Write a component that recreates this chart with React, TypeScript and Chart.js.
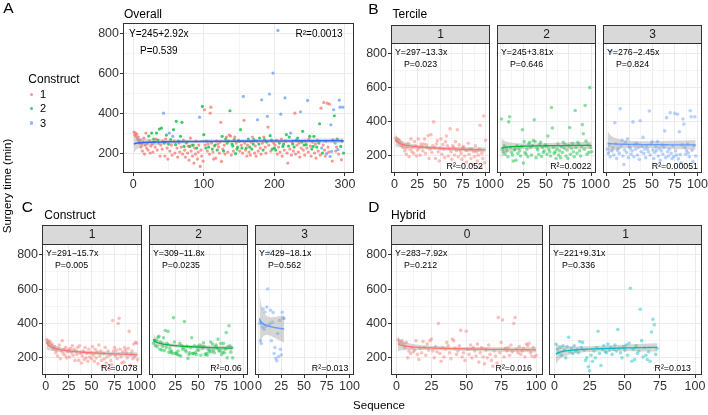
import React, { useEffect, useRef } from 'react';
import { Chart, registerables } from 'chart.js';

Chart.register(...registerables);

const FONT = '"Liberation Sans", Arimo, Arial, Helvetica, sans-serif';

// ---------------- data ----------------
// surgery time (min) by overall sequence number 1..298
const surgeryTime: number[] = [
  305, 290, 300, 285, 295, 270, 280, 260, 250, 265,
  230, 245, 210, 255, 275, 195, 240, 300, 225, 250,
  215, 285, 260, 200, 235, 300, 245, 205, 270, 255,
  230, 270, 300, 215, 265, 250, 320, 185, 240, 325,
  220, 260, 400, 250, 185, 270, 290, 225, 170, 245,
  300, 210, 267, 240, 190, 284, 317, 260, 200, 242,
  359, 225, 180, 260, 250, 205, 284, 230, 354, 195,
  265, 233, 215, 180, 250, 255, 200, 235, 165, 233,
  275, 210, 240, 185, 240, 150, 225, 195, 260, 225,
  170, 205, 240, 380, 133, 215, 185, 434, 160, 292,
  417, 240, 225, 260, 210, 245, 230, 195, 400, 430,
  250, 220, 205, 170, 235, 240, 175, 260, 215, 245,
  230, 200, 255, 354, 158, 284, 220, 210, 240, 195,
  270, 280, 250, 205, 260, 290, 412, 285, 190, 245,
  235, 210, 267, 280, 197, 250, 220, 230, 265, 259,
  210, 317, 240, 225, 200, 484, 364, 250, 215, 225,
  185, 240, 270, 205, 230, 190, 255, 220, 280, 245,
  267, 200, 235, 185, 260, 367, 210, 245, 275, 225,
  195, 467, 250, 215, 280, 267, 230, 200, 255, 384,
  330, 240, 496, 287, 210, 265, 220, 601, 250, 225,
  240, 215, 265, 195, 815, 230, 250, 205, 395, 270,
  185, 233, 245, 215, 477, 260, 292, 200, 150, 235,
  280, 220, 300, 190, 255, 245, 210, 230, 400, 195,
  265, 240, 275, 205, 250, 180, 407, 225, 255, 309,
  215, 240, 190, 260, 242, 225, 464, 205, 270, 284,
  235, 185, 220, 255, 233, 284, 200, 245, 175, 230,
  265, 210, 250, 347, 190, 425, 225, 200, 240, 454,
  215, 185, 260, 197, 450, 230, 205, 445, 183, 342,
  208, 160, 265, 417, 387, 250, 210, 230, 270, 217,
  195, 465, 430, 233, 167, 260, 430, 200,
];

// construct of each case (same order)
const construct: number[] = [
  1, 1, 1, 1, 1, 1, 1, 1, 1, 1,
  1, 1, 1, 1, 1, 1, 1, 1, 1, 1,
  1, 2, 1, 1, 1, 2, 1, 1, 2, 1,
  1, 1, 2, 1, 2, 1, 2, 1, 1, 2,
  1, 1, 3, 2, 1, 1, 2, 1, 1, 2,
  3, 1, 2, 1, 1, 3, 2, 1, 1, 2,
  2, 1, 1, 2, 1, 1, 2, 1, 2, 1,
  1, 2, 1, 1, 1, 2, 1, 1, 1, 2,
  1, 1, 1, 1, 2, 1, 1, 1, 1, 2,
  1, 1, 1, 3, 1, 1, 1, 2, 1, 2,
  1, 1, 2, 1, 1, 1, 2, 1, 1, 1,
  1, 2, 1, 1, 1, 2, 1, 1, 2, 1,
  1, 1, 1, 1, 1, 2, 1, 2, 1, 1,
  2, 1, 2, 1, 2, 1, 2, 1, 1, 2,
  2, 1, 2, 1, 2, 1, 2, 2, 1, 2,
  1, 2, 1, 2, 1, 3, 1, 1, 1, 2,
  1, 1, 2, 1, 2, 1, 1, 2, 1, 2,
  2, 1, 1, 1, 1, 3, 1, 2, 2, 1,
  1, 3, 1, 2, 1, 2, 1, 1, 2, 3,
  1, 1, 3, 2, 1, 2, 2, 3, 1, 2,
  1, 2, 1, 1, 3, 1, 2, 1, 3, 1,
  1, 2, 2, 1, 3, 1, 2, 1, 1, 2,
  2, 1, 3, 1, 1, 2, 1, 2, 1, 1,
  2, 1, 2, 1, 1, 1, 3, 1, 2, 2,
  1, 2, 1, 1, 2, 1, 3, 1, 1, 2,
  1, 1, 2, 1, 2, 2, 1, 1, 1, 2,
  1, 1, 2, 2, 1, 1, 3, 2, 1, 1,
  1, 1, 3, 3, 1, 1, 1, 1, 3, 3,
  3, 1, 2, 3, 2, 3, 1, 1, 2, 3,
  1, 3, 3, 2, 1, 2, 3, 2,
];

// surgery time by sequence within hybrid group
const hybrid0Time: number[] = [
  305, 295, 285, 300, 280, 260, 290, 200, 240, 225,
  260, 235, 245, 300, 220, 190, 255, 230, 295, 260,
  215, 280, 245, 300, 310, 240, 200, 265, 235, 400,
  225, 180, 260, 205, 250, 290, 270, 230, 195, 310,
  300, 255, 220, 240, 270, 360, 205, 230, 185, 355,
  250, 220, 275, 200, 260, 240, 210, 280, 175, 230,
  260, 205, 165, 245, 200, 275, 220, 185, 150, 240,
  210, 170, 435, 230, 290, 420, 205, 255, 240, 260,
  215, 275, 235, 400, 435, 250, 230, 265, 220, 240,
  255, 205, 280, 270, 285, 230, 210, 260, 205, 215,
];
const hybrid1Time: number[] = [
  280, 250, 230, 260, 215, 270, 245, 200, 265, 320,
  235, 255, 225, 270, 240, 250, 230, 295, 260, 290,
  245, 185, 200, 148, 125, 215, 180, 240, 200, 260,
  355, 225, 155, 250, 270, 235, 230, 280, 245, 260,
  220, 250, 275, 240, 365, 255, 230, 200, 265, 245,
  275, 215, 285, 605, 180, 250, 190, 270, 225, 240,
  483, 300, 205, 260, 215, 190, 235, 180, 350, 425,
  392, 220, 255,
];

// regression Y = a + b*ln(x)
const overallFit = [245, 2.92];
const tercileFits = [[297, -13.3], [245, 3.81], [276, -2.45]];
const constructFits = [[291, -15.7], [309, -11.8], [429, -18.1]];
const hybridFits = [[283, -7.92], [221, 9.31]];

const overallLabels = ['Y=245+2.92x', 'P=0.539', 'R\u00b2=0.0013'];
const tercileLabels = [
  ['Y=297\u221213.3x', 'P=0.023', 'R\u00b2=0.052'],
  ['Y=245+3.81x', 'P=0.646', 'R\u00b2=0.0022'],
  ['Y=276\u22122.45x', 'P=0.824', 'R\u00b2=0.00051'],
];
const constructLabels = [
  ['Y=291\u221215.7x', 'P=0.005', 'R\u00b2=0.078'],
  ['Y=309\u221211.8x', 'P=0.0235', 'R\u00b2=0.06'],
  ['Y=429\u221218.1x', 'P=0.562', 'R\u00b2=0.013'],
];
const hybridLabels = [
  ['Y=283\u22127.92x', 'P=0.212', 'R\u00b2=0.016'],
  ['Y=221+9.31x', 'P=0.336', 'R\u00b2=0.013'],
];

const tercileNames = ['1', '2', '3'];
const constructNames = ['1', '2', '3'];
const hybridNames = ['0', '1'];

const yMajor = [200, 400, 600, 800];
const yMinor = [300, 500, 700];
const xMajorOverall = [0, 100, 200, 300];
const xMinorOverall = [50, 150, 250];
const xMajorFacet = [0, 25, 50, 75, 100];
const xMinorFacet = [12.5, 37.5, 62.5, 87.5];

const RED = '#F8766D';
const GREEN = '#00BA38';
const BLUE = '#619CFF';
const CYAN = '#00BFC4';
const groupColors = [RED, GREEN, BLUE];
const hybridColors = [RED, CYAN];

// ---------------- helpers ----------------
type Pt = { x: number; y: number };
type TextSpec = { text: string; left?: number; right?: number; top?: number; bottom?: number; size: number };
type PanelSpec = {
  id: string;
  rect: [number, number, number, number];
  stripTop?: number;
  stripLabel?: string;
  xRange: [number, number];
  yRange: [number, number];
  xMajor: number[];
  xMinor: number[];
  showY: boolean;
  points: Pt[];
  pointColors: string[];
  pointRadius: number;
  fit: number[];
  lineColor: string;
  lineWidth: number;
  texts: TextSpec[];
};

function rgba(hex: string, a: number) {
  const n = parseInt(hex.slice(1), 16);
  return `rgba(${(n >> 16) & 255},${(n >> 8) & 255},${n & 255},${a})`;
}

function toPoints(ys: number[]): Pt[] {
  return ys.map((y, i) => ({ x: i + 1, y }));
}

function smooth(points: Pt[], fit: number[]) {
  const [a, b] = fit;
  const n = points.length;
  const lx = points.map((p) => Math.log(p.x));
  const mean = lx.reduce((s, v) => s + v, 0) / n;
  const sxx = lx.reduce((s, v) => s + (v - mean) ** 2, 0);
  const rss = points.reduce((s, p, i) => s + (p.y - a - b * lx[i]) ** 2, 0);
  const sigma = Math.sqrt(rss / (n - 2));
  const t = n > 60 ? 1.98 : 2.05;
  const xs = points.map((p) => p.x);
  const xmin = Math.min(...xs);
  const xmax = Math.max(...xs);
  const N = 160;
  const line: Pt[] = [];
  const upper: Pt[] = [];
  const lower: Pt[] = [];
  for (let k = 0; k <= N; k++) {
    const x = xmin + ((xmax - xmin) * k) / N;
    const l = Math.log(x);
    const yh = a + b * l;
    const se = sigma * Math.sqrt(1 / n + (l - mean) ** 2 / sxx);
    line.push({ x, y: yh });
    upper.push({ x, y: yh + t * se });
    lower.push({ x, y: yh - t * se });
  }
  return { line, upper, lower };
}

// ---------------- panel specs ----------------
const overallPoints = toPoints(surgeryTime);
const tercileSeries = [0, 1, 2].map((k) => surgeryTime.slice(k * 100, k * 100 + 100));
const constructSeries = [1, 2, 3].map((c) => surgeryTime.filter((_, i) => construct[i] === c).slice(0, 100));
const hybridSeries = [hybrid0Time, hybrid1Time];

const FACET_Y: [number, number] = [100, 863];
const FACET_X: [number, number] = [-3.95, 104.95];

const facetTexts = (labels: string[], r2Right: number): TextSpec[] => [
  { text: labels[0], left: 4, top: 9.5, size: 8.8 },
  { text: labels[1], left: 13, top: 21.5, size: 8.8 },
  { text: labels[2], right: r2Right, bottom: 6.5, size: 8.8 },
];

const panels: PanelSpec[] = [];

panels.push({
  id: 'A',
  rect: [123, 23, 354, 173],
  xRange: [-14.5, 312.8],
  yRange: [100, 852],
  xMajor: xMajorOverall,
  xMinor: xMinorOverall,
  showY: true,
  points: overallPoints,
  pointColors: construct.map((c) => rgba(groupColors[c - 1], 0.75)),
  pointRadius: 1.6,
  fit: overallFit,
  lineColor: '#3366FF',
  lineWidth: 1.6,
  texts: [
    { text: overallLabels[0], left: 6, top: 11, size: 10 },
    { text: overallLabels[1], left: 17, top: 28.5, size: 10 },
    { text: overallLabels[2], right: 11.5, top: 11, size: 10 },
  ],
});

const bRects: [number, number, number, number][] = [
  [391, 43, 490, 173],
  [497, 43, 596, 173],
  [603, 43, 702, 173],
];
const bR2 = [7, 4.5, 4];
tercileSeries.forEach((ys, k) => {
  panels.push({
    id: 'B' + k,
    rect: bRects[k],
    stripTop: 25,
    stripLabel: tercileNames[k],
    xRange: FACET_X,
    yRange: FACET_Y,
    xMajor: xMajorFacet,
    xMinor: xMinorFacet,
    showY: k === 0,
    points: toPoints(ys),
    pointColors: ys.map(() => rgba(groupColors[k], 0.45)),
    pointRadius: 1.8,
    fit: tercileFits[k],
    lineColor: groupColors[k],
    lineWidth: 1.3,
    texts: facetTexts(tercileLabels[k], bR2[k]),
  });
});

const cRects: [number, number, number, number][] = [
  [42, 244, 142, 375],
  [149, 244, 248, 375],
  [255, 244, 354, 375],
];
const cR2 = [4.5, 6.3, 5.7];
constructSeries.forEach((ys, k) => {
  panels.push({
    id: 'C' + k,
    rect: cRects[k],
    stripTop: 225,
    stripLabel: constructNames[k],
    xRange: FACET_X,
    yRange: FACET_Y,
    xMajor: xMajorFacet,
    xMinor: xMinorFacet,
    showY: k === 0,
    points: toPoints(ys),
    pointColors: ys.map(() => rgba(groupColors[k], 0.45)),
    pointRadius: 1.8,
    fit: constructFits[k],
    lineColor: groupColors[k],
    lineWidth: 1.3,
    texts: facetTexts(constructLabels[k], cR2[k]),
  });
});

const dRects: [number, number, number, number][] = [
  [391, 244, 543, 375],
  [549, 244, 702, 375],
];
hybridSeries.forEach((ys, k) => {
  panels.push({
    id: 'D' + k,
    rect: dRects[k],
    stripTop: 225,
    stripLabel: hybridNames[k],
    xRange: FACET_X,
    yRange: FACET_Y,
    xMajor: xMajorFacet,
    xMinor: xMinorFacet,
    showY: k === 0,
    points: toPoints(ys),
    pointColors: ys.map(() => rgba(hybridColors[k], 0.45)),
    pointRadius: 1.8,
    fit: hybridFits[k],
    lineColor: hybridColors[k],
    lineWidth: 1.3,
    texts: facetTexts(hybridLabels[k], 11),
  });
});

// ---------------- chart panel ----------------
function decorPlugin(spec: PanelSpec) {
  return {
    id: 'decor' + spec.id,
    afterDraw(chart: any) {
      const { ctx, chartArea: ca } = chart;
      ctx.save();
      if (spec.stripTop !== undefined) {
        const h = ca.top - spec.stripTop;
        ctx.fillStyle = '#D9D9D9';
        ctx.fillRect(ca.left, spec.stripTop, ca.right - ca.left, h);
        ctx.strokeStyle = '#333333';
        ctx.lineWidth = 1;
        ctx.strokeRect(ca.left + 0.5, spec.stripTop + 0.5, ca.right - ca.left - 1, h);
        ctx.fillStyle = '#1A1A1A';
        ctx.font = `12px ${FONT}`;
        ctx.textAlign = 'center';
        ctx.textBaseline = 'middle';
        ctx.fillText(spec.stripLabel, (ca.left + ca.right) / 2, spec.stripTop + h / 2 + 0.5);
      }
      ctx.fillStyle = '#000000';
      ctx.textBaseline = 'middle';
      for (const t of spec.texts) {
        ctx.font = `${t.size}px ${FONT}`;
        let x: number;
        if (t.left !== undefined) {
          ctx.textAlign = 'left';
          x = ca.left + t.left;
        } else {
          ctx.textAlign = 'right';
          x = ca.right - (t.right || 0);
        }
        const y = t.top !== undefined ? ca.top + t.top : ca.bottom - (t.bottom || 0);
        ctx.fillText(t.text, x, y);
      }
      ctx.strokeStyle = '#333333';
      ctx.lineWidth = 1;
      ctx.strokeRect(ca.left + 0.5, ca.top + 0.5, ca.right - ca.left - 1, ca.bottom - ca.top - 1);
      ctx.restore();
    },
  };
}

function PanelChart({ spec }: { spec: PanelSpec }) {
  const ref = useRef<HTMLCanvasElement>(null);
  useEffect(() => {
    const canvas = ref.current;
    if (!canvas) return;
    const [l, t, r, b] = spec.rect;
    const W = 708;
    const H = 415;
    const yW = spec.showY ? 40 : 0;
    const xH = 20;
    const sm = smooth(spec.points, spec.fit);
    const xTickVals = [...spec.xMajor, ...spec.xMinor].sort((p, q) => p - q);
    const yTickVals = [...yMajor, ...yMinor].sort((p, q) => p - q);
    const isMajX = (v: number) => spec.xMajor.includes(v);
    const isMajY = (v: number) => yMajor.includes(v);
    const chart = new Chart(canvas, {
      type: 'scatter',
      data: {
        datasets: [
          {
            type: 'line',
            data: sm.line,
            borderColor: spec.lineColor,
            borderWidth: spec.lineWidth,
            pointRadius: 0,
            fill: false,
            tension: 0,
          } as any,
          {
            type: 'line',
            data: sm.upper,
            borderColor: 'rgba(0,0,0,0)',
            borderWidth: 0,
            pointRadius: 0,
            fill: '+1',
            backgroundColor: 'rgba(153,153,153,0.4)',
          } as any,
          {
            type: 'line',
            data: sm.lower,
            borderColor: 'rgba(0,0,0,0)',
            borderWidth: 0,
            pointRadius: 0,
            fill: false,
          } as any,
          {
            type: 'scatter',
            data: spec.points,
            backgroundColor: spec.pointColors,
            borderWidth: 0,
            pointRadius: spec.pointRadius,
          } as any,
        ],
      },
      options: {
        responsive: false,
        animation: false,
        devicePixelRatio: 1,
        events: [],
        layout: { padding: { left: l - yW, top: t, right: W - r, bottom: H - b - xH } },
        plugins: { legend: { display: false }, tooltip: { enabled: false }, title: { display: false } },
        scales: {
          x: {
            type: 'linear',
            min: spec.xRange[0],
            max: spec.xRange[1],
            bounds: 'data',
            afterBuildTicks: (s: any) => {
              s.ticks = xTickVals.map((v) => ({ value: v }));
            },
            afterFit: (s: any) => {
              s.height = xH;
              s.paddingLeft = 0;
              s.paddingRight = 0;
            },
            ticks: {
              autoSkip: false,
              maxRotation: 0,
              minRotation: 0,
              padding: 1,
              color: '#333333',
              font: { family: FONT, size: 12.5 },
              callback: (v: any) => (isMajX(Number(v)) ? String(v) : ''),
            },
            grid: {
              color: () => '#EBEBEB',
              lineWidth: (c: any) => (c.tick && isMajX(c.tick.value) ? 1 : 0.5),
              drawTicks: true,
              tickLength: 3,
              tickColor: (c: any) => (c.tick && isMajX(c.tick.value) ? '#333333' : 'rgba(0,0,0,0)'),
              tickWidth: 1,
            },
            border: { display: false },
          },
          y: {
            type: 'linear',
            min: spec.yRange[0],
            max: spec.yRange[1],
            bounds: 'data',
            afterBuildTicks: (s: any) => {
              s.ticks = yTickVals.map((v) => ({ value: v }));
            },
            afterFit: (s: any) => {
              s.width = yW;
              s.paddingTop = 0;
              s.paddingBottom = 0;
            },
            ticks: {
              display: spec.showY,
              autoSkip: false,
              padding: 1,
              color: '#333333',
              font: { family: FONT, size: 12.5 },
              callback: (v: any) => (isMajY(Number(v)) ? String(v) : ''),
            },
            grid: {
              color: () => '#EBEBEB',
              lineWidth: (c: any) => (c.tick && isMajY(c.tick.value) ? 1 : 0.5),
              drawTicks: spec.showY,
              tickLength: 3,
              tickColor: (c: any) => (c.tick && isMajY(c.tick.value) ? '#333333' : 'rgba(0,0,0,0)'),
              tickWidth: 1,
            },
            border: { display: false },
          },
        },
      } as any,
      plugins: [decorPlugin(spec)],
    });
    return () => chart.destroy();
  }, [spec]);
  return (
    <canvas
      ref={ref}
      width={708}
      height={415}
      style={{ position: 'absolute', left: 0, top: 0, width: 708, height: 415, pointerEvents: 'none' }}
    />
  );
}

function Txt(props: { x: number; y: number; size: number; text: string; center?: boolean; rotate?: boolean }) {
  const { x, y, size, text, center, rotate } = props;
  const style: React.CSSProperties = {
    position: 'absolute',
    left: x,
    top: rotate ? y : y - size * 0.488,
    fontSize: size,
    lineHeight: `${size}px`,
    whiteSpace: 'nowrap',
    color: '#000',
    fontFamily: FONT,
  };
  if (rotate) style.transform = 'translate(-50%, -50%) rotate(-90deg)';
  else if (center) style.transform = 'translateX(-50%)';
  return <div style={style}>{text}</div>;
}

const legendItems = ['1', '2', '3'];
const legendY = [94.3, 108.3, 123];

export default function App() {
  return (
    <div style={{ position: 'fixed', left: 0, top: 0, width: 708, height: 415, background: '#fff', overflow: 'hidden', fontFamily: FONT }}>
      {panels.map((p) => (
        <PanelChart key={p.id} spec={p} />
      ))}
      <Txt x={3.3} y={7.3} size={15.5} text="A" />
      <Txt x={368.3} y={8.3} size={15.5} text="B" />
      <Txt x={21.7} y={207} size={15.5} text="C" />
      <Txt x={368.3} y={207} size={15.5} text="D" />
      <Txt x={124} y={14.2} size={12} text="Overall" />
      <Txt x={392.5} y={14.2} size={12} text="Tercile" />
      <Txt x={44.3} y={215.3} size={12} text="Construct" />
      <Txt x={391} y={215.3} size={12} text="Hybrid" />
      <Txt x={28.3} y={79.2} size={12} text="Construct" />
      {legendItems.map((lab, i) => (
        <React.Fragment key={lab}>
          <div
            style={{
              position: 'absolute',
              left: 31.7 - 1.8,
              top: legendY[i] - 1.8,
              width: 3.6,
              height: 3.6,
              borderRadius: '50%',
              background: rgba(groupColors[i], 0.75),
            }}
          />
          <Txt x={40} y={legendY[i]} size={11} text={lab} />
        </React.Fragment>
      ))}
      <Txt x={8} y={186} size={11.5} text="Surgery time (min)" rotate />
      <Txt x={379} y={406} size={11.5} text="Sequence" center />
    </div>
  );
}
